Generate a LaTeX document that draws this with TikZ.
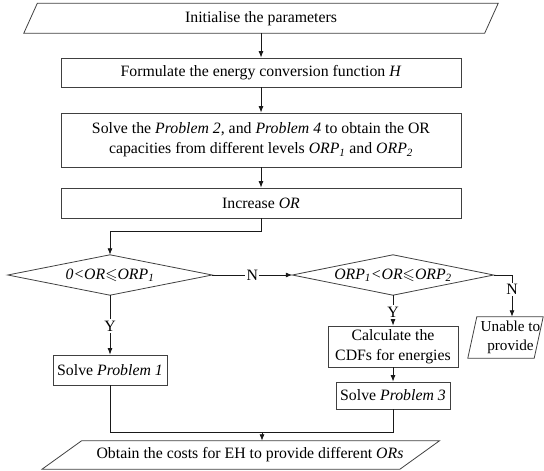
\documentclass[tikz,border=0pt]{standalone}
\usepackage{amssymb}
\usepackage{fontspec}
\setmainfont{Liberation Serif}
\usetikzlibrary{arrows.meta}
\newcommand{\drawpara}[3]{\draw[bd] ([xshift=#2]#1.north west) -- ([xshift=#2]#1.north east) -- ([xshift=#3]#1.south east) -- ([xshift=#3]#1.south west) -- cycle;}
\newcommand{\drawdia}[1]{\draw[bd] (#1.north) -- (#1.east) -- (#1.south) -- (#1.west) -- cycle;}
\begin{document}
\begin{tikzpicture}[x=1pt,y=-1pt,
  every node/.style={font=\fontsize{15.8}{20}\selectfont, inner sep=0pt, align=center},
  bd/.style={draw=black!75, line width=0.8pt},
  box/.style={bd, rectangle},
  arr/.style={draw=black!90, line width=0.8pt, -{Latex[length=6.5pt,width=5pt]}},
  ln/.style={draw=black!90, line width=0.8pt},
  lab/.style={fill=white, inner sep=1.5pt}]
\useasboundingbox (0,0) rectangle (544,471);

\node[minimum width=460.5pt, minimum height=29.5pt] (init) at (261,18.25) {Initialise the parameters};
\drawpara{init}{6.75pt}{-6.75pt}

\node[box, minimum width=400pt, minimum height=29pt] (f) at (261,72.5) {Formulate the energy conversion function \textit{H}};
\node[box, minimum width=400pt, minimum height=54pt] (s) at (261,140) {Solve the \textit{Problem 2}, and \textit{Problem 4} to obtain the OR\\capacities from different levels \textit{ORP}\textsubscript{\textit{1}} and \textit{ORP}\textsubscript{\textit{2}}};
\node[box, minimum width=400pt, minimum height=30pt] (inc) at (261,203) {Increase \textit{OR}};

\node[minimum width=204pt, minimum height=40pt] (d1) at (110,275) {\textit{0<OR}$\leqslant$\textit{ORP}\textsubscript{\textit{1}}};
\drawdia{d1}
\node[minimum width=201pt, minimum height=40pt] (d2) at (393,275) {\textit{ORP}\textsubscript{\textit{1}}\textit{<OR}$\leqslant$\textit{ORP}\textsubscript{\textit{2}}};
\drawdia{d2}

\node[minimum width=66pt, minimum height=41pt, font=\fontsize{15.2}{18.5}\selectfont] (un) at (510.5,337.5) {Unable to\\provide};
\drawpara{un}{-0.5pt}{-9.5pt}

\node[box, minimum width=130pt, minimum height=41pt] (calc) at (393,346.5) {Calculate the\\CDFs for energies};
\node[box, minimum width=114pt, minimum height=27pt] (s3) at (393,395.5) {Solve \textit{Problem 3}};
\node[box, minimum width=114pt, minimum height=30pt] (s1) at (110,370) {Solve \textit{Problem 1}};

\node[minimum width=357.5pt, minimum height=28pt] (out) at (250,455) {Obtain the costs for EH to provide different \textit{ORs}};
\drawpara{out}{10.5pt}{-29pt}

\draw[arr] (init) -- (f);
\draw[arr] (f) -- (s);
\draw[arr] (s) -- (inc);
\draw[arr] (inc.south) -- ++(0,13) -| (d1.north);
\draw[arr] (d1.east) -- node[lab]{N} (d2.west);
\draw[arr] (d2.east) -| node[lab,pos=0.67]{N} ([xshift=1.5pt]un.north);
\draw[arr] (d1.south) -- node[lab,pos=0.52]{Y} (s1.north);
\draw[arr] (d2.south) -- node[lab,pos=0.55]{Y} (calc.north);
\draw[arr] (calc) -- (s3);
\coordinate (m) at (262,432);
\draw[ln] (s1.south) |- (m);
\draw[ln] (s3.south) |- (m);
\draw[arr] (m) -- (m |- out.north);
\end{tikzpicture}
\end{document}
